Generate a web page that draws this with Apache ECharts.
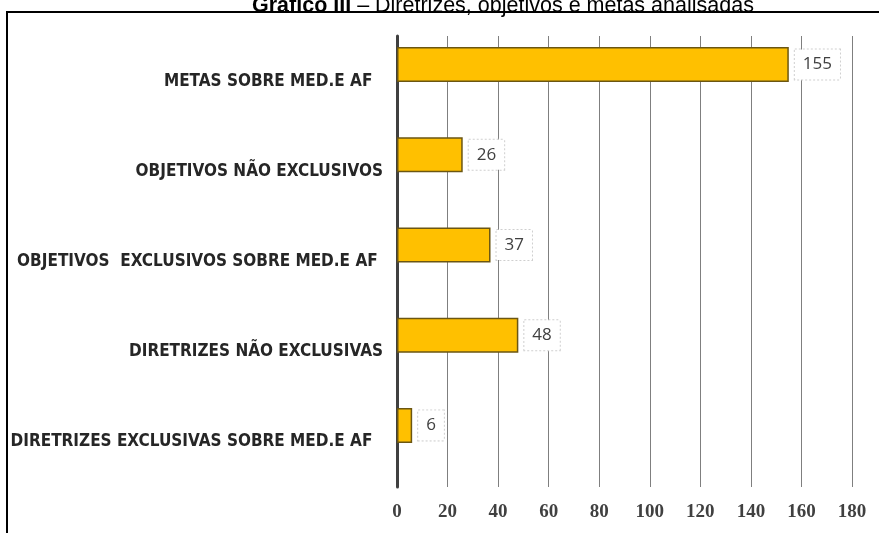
<!DOCTYPE html>
<html>
<head>
<meta charset="utf-8">
<script src="https://cdn.jsdelivr.net/npm/echarts@6/dist/echarts.min.js"></script>
<style>html,body{margin:0;padding:0;background:#fff}#c{width:879px;height:533px}</style>
</head>
<body>
<div id="c"></div>
<script>
const categories = [
  "METAS SOBRE MED.E AF  ",
  "OBJETIVOS NÃO EXCLUSIVOS",
  "OBJETIVOS  EXCLUSIVOS SOBRE MED.E AF ",
  "DIRETRIZES NÃO EXCLUSIVAS",
  "DIRETRIZES EXCLUSIVAS SOBRE MED.E AF  "
];
const values = [155, 26, 37, 48, 6];
const xMin = 0, xMax = 180, xStep = 20;
const titleBold = "Gráfico III";
const titleRest = " – Diretrizes, objetivos e metas analisadas";

const chart = echarts.init(document.getElementById('c'), null, {renderer: 'canvas'});
chart.setOption({
  animation: false,
  backgroundColor: '#fff',
  title: {
    text: '{b|' + titleBold + '}{r|' + titleRest + '}',
    left: 247,
    top: -10,
    textStyle: {
      rich: {
        b: {fontFamily: 'Liberation Sans', fontWeight: 'bold', fontSize: 21.5, color: '#000'},
        r: {fontFamily: 'Liberation Sans', fontWeight: 'normal', fontSize: 21.5, color: '#000'}
      }
    }
  },
  graphic: [{
    type: 'polyline',
    shape: {points: [[7, 533], [7, 12], [879, 12]]},
    style: {stroke: '#000', lineWidth: 2, fill: null},
    silent: true
  }],
  grid: [
    {left: 397, right: 27, top: 36, bottom: 46, outerBoundsMode: 'none', containLabel: false},
    {left: 397, right: 27, top: 19.5, bottom: 62.5, outerBoundsMode: 'none', containLabel: false}
  ],
  xAxis: [
    {
      gridIndex: 0, type: 'value', min: xMin, max: xMax, interval: xStep,
      axisLine: {show: false}, axisTick: {show: false},
      splitLine: {show: true, lineStyle: {color: '#7f7f7f', width: 1}},
      axisLabel: {margin: 16, fontFamily: 'Liberation Serif', fontWeight: 'bold', fontSize: 19, color: '#404040'}
    },
    {
      gridIndex: 1, type: 'value', min: xMin, max: xMax, interval: xStep, show: false
    }
  ],
  yAxis: [
    {
      gridIndex: 0, type: 'category', data: categories, inverse: true,
      axisLine: {show: true, lineStyle: {color: '#404040', width: 3}},
      axisTick: {show: false}, splitLine: {show: false},
      axisLabel: {margin: 14, fontFamily: '"DejaVu Sans Condensed", "DejaVu Sans", sans-serif', fontWeight: 'bold', fontSize: 17, color: '#262626'}
    },
    {
      gridIndex: 1, type: 'category', data: categories, inverse: true, show: false
    }
  ],
  series: [{
    type: 'bar',
    xAxisIndex: 1, yAxisIndex: 1,
    data: values,
    barWidth: 35,
    itemStyle: {color: '#FFC000', borderColor: '#6b5612', borderWidth: 1.5},
    label: {
      show: true, position: 'right', distance: 6,
      fontFamily: 'Open Sans', fontSize: 17, color: '#404040',
      backgroundColor: '#fff', borderColor: '#cfcfcf', borderWidth: 1, borderType: 'dotted',
      padding: [7, 8, 6, 8]
    }
  }]
});
</script>
</body>
</html>
